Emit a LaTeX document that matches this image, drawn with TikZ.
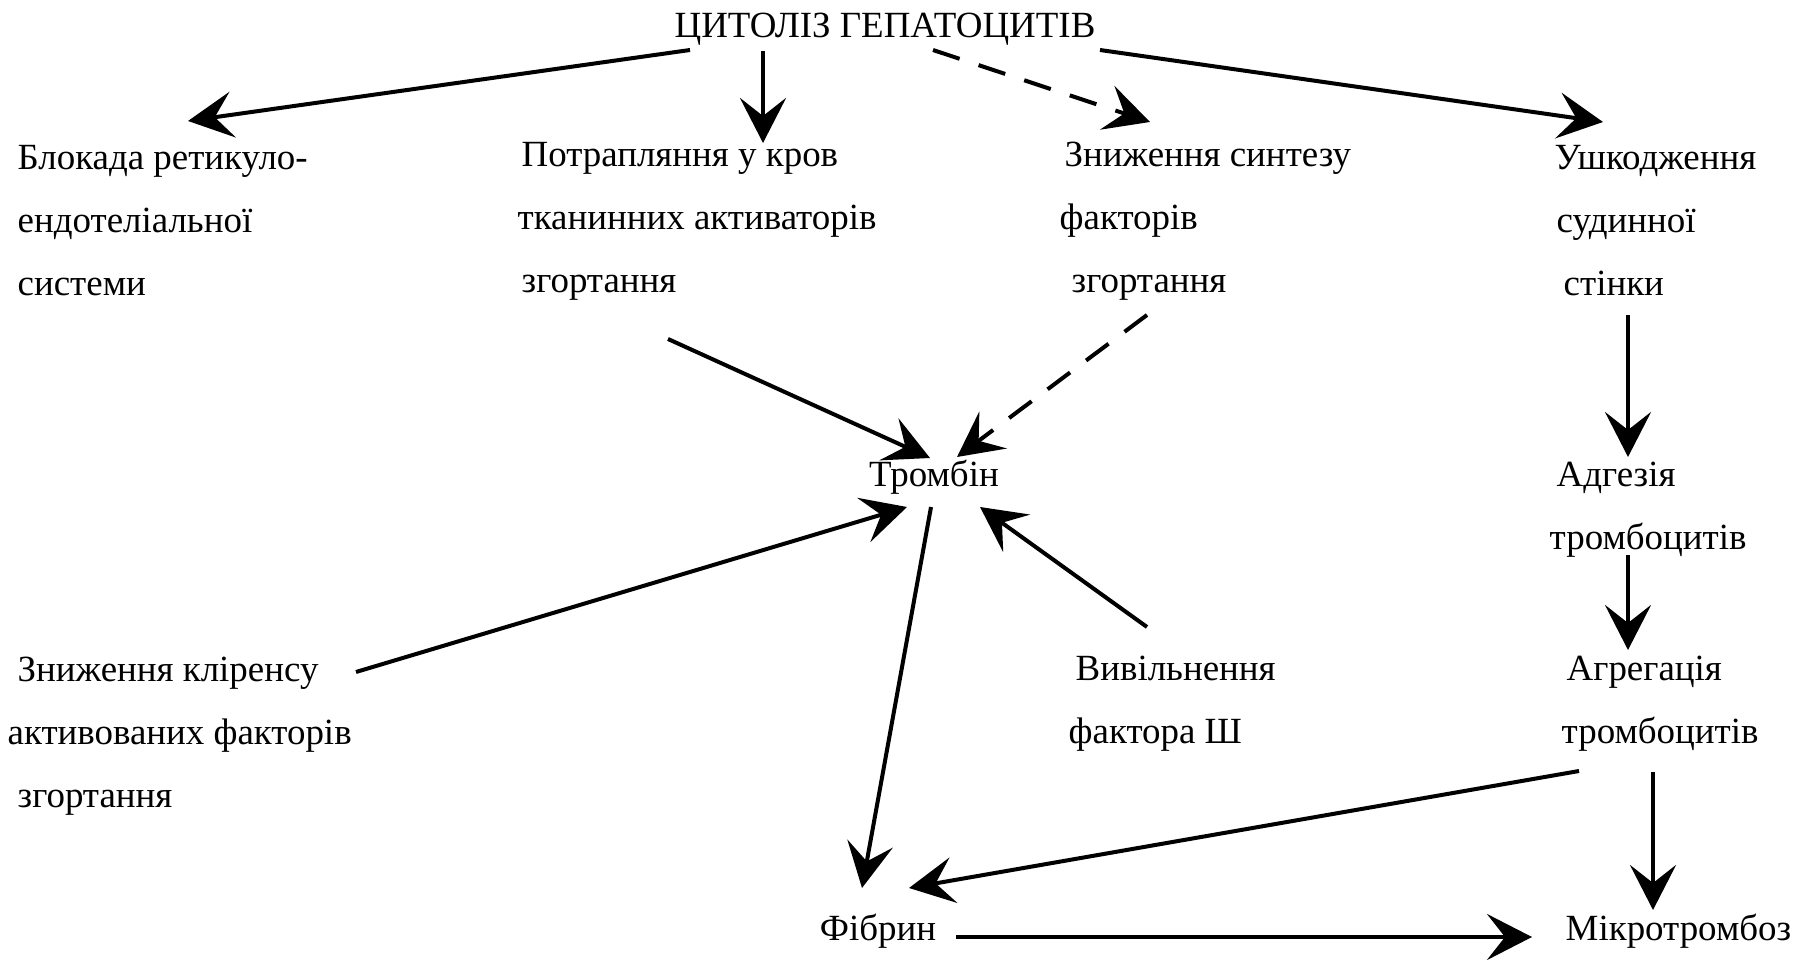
\documentclass[tikz,border=0pt]{standalone}
\usepackage{fontspec}
\setmainfont{Liberation Serif}
\usetikzlibrary{arrows.meta}

\begin{document}
\begin{tikzpicture}[x=0.01cm,y=-0.01cm,
  txt/.style={inner sep=0pt,align=left,font=\fontsize{10.5}{17.9}\selectfont},
  arr/.style={-{Stealth[length=4.5mm,width=4.6mm,inset=1.8mm]},line width=0.4mm},
  dsh/.style={arr,dash pattern=on 2.8mm off 2mm}]
  \useasboundingbox (0,0) rectangle (1809,961);
  % top
  \node[txt,anchor=base] (cyt) at (885,38) {ЦИТОЛІЗ ГЕПАТОЦИТІВ};
  % first row
  \node[txt,anchor=west] (blok) at (17,221) {Блокада ретикуло-\\ендотеліальної\\системи};
  \node[txt,anchor=west] (potr) at (517,221) {\hspace*{0.4mm}Потрапляння у кров\\тканинних активаторів\\\hspace*{0.4mm}згортання};
  \node[txt,anchor=west] (synt) at (1059,221) {\hspace*{0.5mm}Зниження синтезу\\факторів\\\hspace*{1.2mm}згортання};
  \node[txt,anchor=west] (ushk) at (1554,221) {Ушкодження\\\hspace*{0.2mm}судинної\\\hspace*{0.9mm}стінки};
  % middle
  \node[txt,anchor=base] (tromb) at (934,487) {Тромбін};
  \node[txt,anchor=west] (adh) at (1549,510) {\hspace*{0.7mm}Адгезія\\тромбоцитів};
  \node[txt,anchor=west] (klir) at (7,736) {\hspace*{1mm}Зниження кліренсу\\активованих факторів\\\hspace*{1mm}згортання};
  \node[txt,anchor=west] (vyv) at (1068,704) {\hspace*{0.7mm}Вивільнення\\фактора Ш};
  \node[txt,anchor=west] (agr) at (1561,704) {\hspace*{0.5mm}Агрегація\\тромбоцитів};
  % bottom
  \node[txt,anchor=base] (fibr) at (878,940) {Фібрин};
  \node[txt,anchor=base west] (mikro) at (1565,940) {Мікротромбоз};

  % arrows from the top
  \draw[arr] ([shift={(-195,12)}]cyt.base) -- ([shift={(171,-100)}]blok.west);
  \draw[arr] ([shift={(-122,13)}]cyt.base) -- ([shift={(246,-78)}]potr.west);
  \draw[dsh] ([shift={(48,12)}]cyt.base) -- ([shift={(91,-99)}]synt.west);
  \draw[arr] ([shift={(215,12)}]cyt.base) -- ([shift={(49,-99)}]ushk.west);
  % to thrombin
  \draw[arr] ([shift={(151,118)}]potr.west) -- ([shift={(-4,-29)}]tromb.base);
  \draw[dsh] ([shift={(88,94)}]synt.west) -- ([shift={(23,-30)}]tromb.base);
  \draw[arr] ([shift={(349,-64)}]klir.west) -- ([shift={(-27,20)}]tromb.base);
  \draw[arr] ([shift={(79,-77)}]vyv.west) -- ([shift={(46,20)}]tromb.base);
  % platelets
  \draw[arr] ([shift={(74,94)}]ushk.west) -- ([shift={(79,-53)}]adh.west);
  \draw[arr] ([shift={(79,45)}]adh.west) -- ([shift={(67,-54)}]agr.west);
  % fibrin, microthrombosis
  \draw[arr] ([shift={(-3,20)}]tromb.base) -- ([shift={(-16,-52)}]fibr.base);
  \draw[arr] ([shift={(18,67)}]agr.west) -- ([shift={(31,-52)}]fibr.base);
  \draw[arr] ([shift={(92,68)}]agr.west) -- ([shift={(88,-30)}]mikro.base west);
  \draw[arr] ([shift={(78,-3)}]fibr.base) -- ([shift={(-33,-3)}]mikro.base west);
\end{tikzpicture}
\end{document}
